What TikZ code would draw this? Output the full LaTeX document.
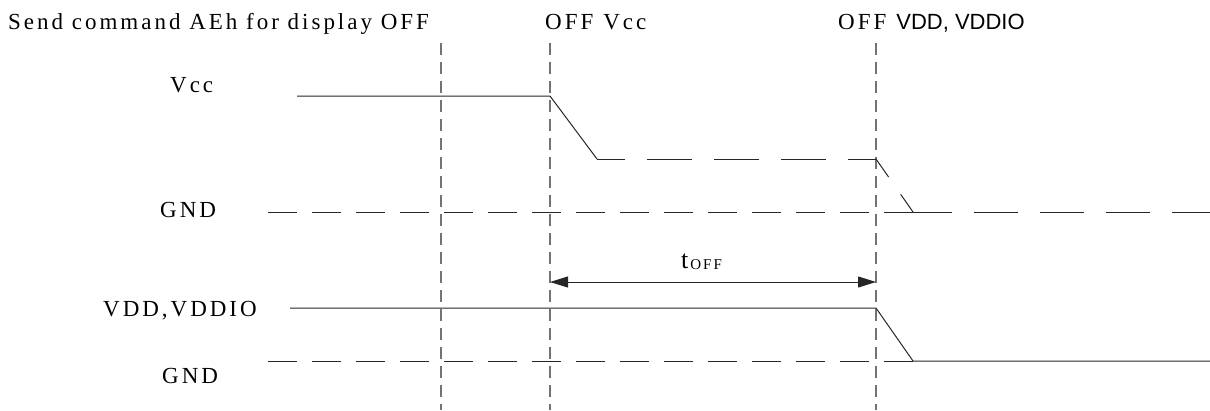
\documentclass[tikz,border=0pt]{standalone}
\usepackage{fontspec}
\setmainfont{Liberation Serif}[LetterSpace=13]
\newfontfamily\vddfont{Liberation Sans}
\usetikzlibrary{arrows.meta}
\begin{document}
\begin{tikzpicture}[x=1pt,y=-1pt,lbl/.style={anchor=base west,inner sep=0pt,font=\fontsize{23}{27}\selectfont},sig/.style={line width=1pt,black!85},gnd/.style={sig,dash pattern=on 29pt off 15pt},mid/.style={sig,dash pattern=on 45pt off 22pt,dash phase=17pt},vline/.style={line width=1.2pt,black!55,dash pattern=on 12pt off 7pt},span/.style={sig,{Triangle[length=18pt,width=11pt]}-{Triangle[length=18pt,width=11pt]}}]
\useasboundingbox (0,0) rectangle (1210,410);
% time marks
\foreach \x/\n in {441/tcmd,550/tvcc,876/tvdd}
    \draw[vline] (\x,43) coordinate (\n a) -- (\x,410) coordinate (\n b);

% Vcc
\coordinate (vcchi) at (297,96);
\coordinate (vccoff) at (550,96);
\coordinate (vccmid) at (597,159);
\coordinate (vccend) at (876,159);
\coordinate (gndknee) at (913,212);
\draw[sig] (vcchi) -- (vccoff) -- (vccmid);
\draw[mid] (vccmid) -- (vccend);
\draw[sig,dash pattern=on 22pt off 21pt] (vccend) -- (gndknee);
\coordinate (gndastart) at (268,212);
\coordinate (gndaend) at (1210,212);
\draw[gnd] (gndastart) -- (gndknee);
\draw[sig,dash pattern=on 44pt off 22pt,dash phase=5pt] (gndknee) -- (gndaend);

% VDD, VDDIO
\coordinate (vddhi) at (290,308);
\coordinate (vddoff) at (876,308);
\coordinate (vddlo) at (913,361);
\coordinate (vddend) at (1210,361);
\coordinate (gndbstart) at (268,361);
\draw[sig] (vddhi) -- (vddoff) -- (vddlo) -- (vddend);
\draw[gnd] (gndbstart) -- (vddlo);

% t_OFF
\coordinate (toffa) at (550,282);
\coordinate (toffb) at (876,282);
\draw[span] (toffa) -- (toffb);
\node[anchor=base west,inner sep=0pt] (toff) at (681,268) {\fontsize{26}{30}\selectfont t\hspace{2pt}\raisebox{-1pt}{\fontsize{15}{18}\selectfont OFF}};

\node[lbl] (cmd) at (8,29) {Send command AEh for display OFF};
\node[lbl] (offvcc) at (545,29) {OFF\hspace{10pt}Vcc};
\node[lbl] (offvdd) at (838,29) {OFF\hspace{10pt}{\vddfont\fontsize{22}{26}\selectfont VDD, VDDIO}};

\node[lbl] (vcc) at (170,92) {Vcc};
\node[lbl] (gnda) at (160,217) {GND};
\node[lbl] (vddio) at (103,316) {VDD,VDDIO};
\node[lbl] (gndb) at (162,383) {GND};
\end{tikzpicture}
\end{document}
